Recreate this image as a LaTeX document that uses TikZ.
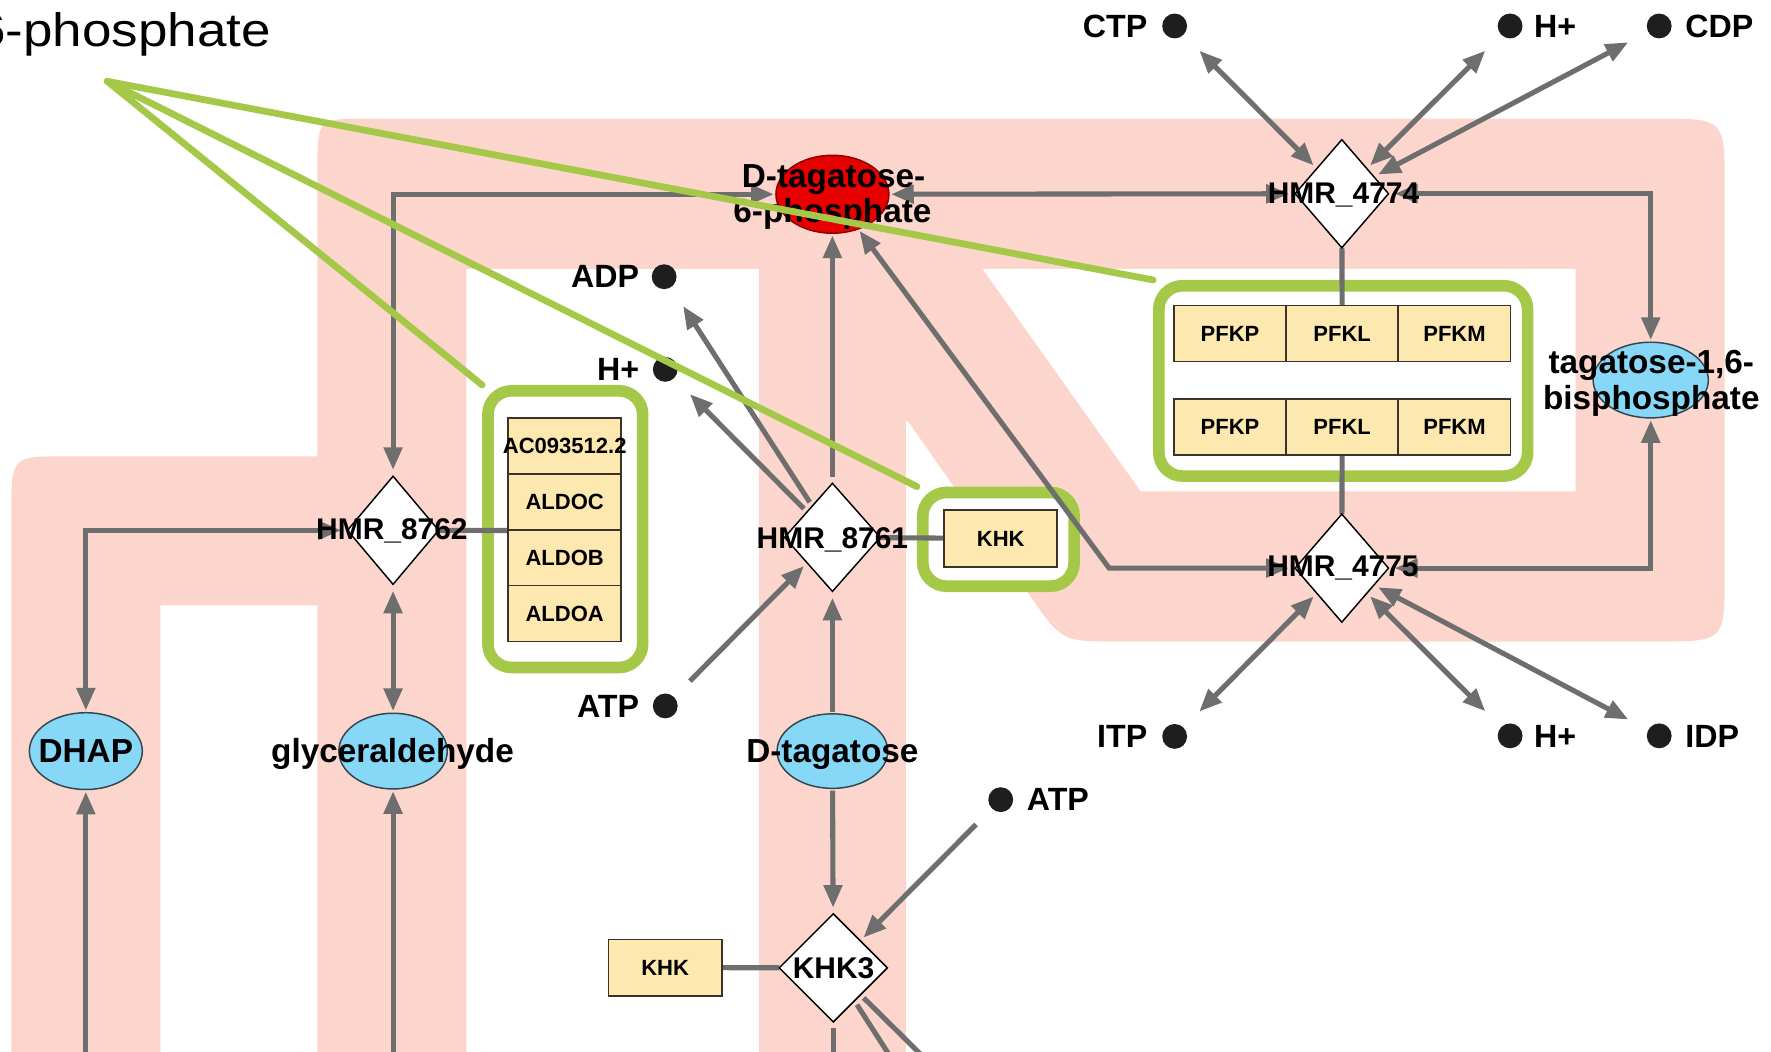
\documentclass[tikz,border=0pt]{standalone}
\usepackage{fontspec}
\setmainfont{Liberation Sans}
\newfontfamily\widesans[FakeStretch=1.13]{Liberation Sans}
\usetikzlibrary{shapes.geometric,arrows.meta}
\definecolor{pinkbg}{RGB}{252,214,204}
\definecolor{linkgray}{RGB}{110,110,110}
\definecolor{enzfill}{RGB}{253,233,176}
\definecolor{enzline}{RGB}{60,50,40}
\definecolor{bluefill}{RGB}{135,215,247}
\definecolor{bluelin}{RGB}{50,70,80}
\definecolor{redfill}{RGB}{232,0,0}
\definecolor{redline}{RGB}{140,0,0}
\definecolor{callgreen}{RGB}{165,200,72}
\definecolor{dotcol}{RGB}{30,30,30}
\newcommand\metfont{\fontsize{28.5}{30}\selectfont\bfseries}
\newcommand\molfont{\fontsize{29.5}{31}\selectfont\bfseries}
\newcommand\rxnfont{\fontsize{26.5}{28}\selectfont\bfseries}
\newcommand\enzfont{\fontsize{19.5}{21}\selectfont\bfseries}
\newcommand\callfont{\widesans\fontsize{41.5}{44}\selectfont}
\pgfdeclarelayer{bglayer}
\pgfdeclarelayer{boxlayer}
\pgfdeclarelayer{edgelayer}
\pgfdeclarelayer{toplayer}
\pgfsetlayers{bglayer,boxlayer,edgelayer,main,toplayer}
\begin{document}
\begin{tikzpicture}[x=1pt,y=-1pt,
  >={Triangle[length=20pt,width=16pt]},
  link/.style={draw=linkgray, line width=4.5pt},
  rxn/.style={shape=diamond, draw=black, line width=1.3pt, fill=white, inner sep=0pt, outer sep=4pt, minimum width=86pt, minimum height=99pt},
  mol/.style={shape=ellipse, draw=bluelin, line width=1.3pt, fill=bluefill, inner sep=0pt, outer sep=2pt},
  metdot/.style={circle, fill=dotcol, inner sep=0pt, minimum size=22pt, outer sep=20pt},
  enz/.style={rectangle, draw=enzline, line width=1.4pt, fill=enzfill, inner sep=0pt, font=\enzfont},
  pfkcell/.style={enz, minimum width=99.3pt, minimum height=49.6pt},
  aldocell/.style={enz, minimum width=100pt, minimum height=49.5pt},
  grp/.style={rectangle, draw=callgreen, line width=10.3pt, fill=white, rounded corners=21pt, inner sep=0pt},
  callline/.style={draw=callgreen, line width=6pt, line cap=round},
  metlab/.style={font=\metfont, inner sep=0pt},
  mollab/.style={font=\molfont, inner sep=0pt, anchor=base},
  rxnlab/.style={font=\rxnfont, inner sep=0pt, anchor=base},
  enzlink/.style={link, shorten <=-5.5pt}
]
\useasboundingbox (0,0) rectangle (1568,931);

% background bands
\begin{pgfonlayer}{bglayer}
\fill[white] (0,0) rectangle (1568,931);
\fill[pinkbg] (10,945) -- (10,454) .. controls (10,404) .. (60,404) -- (285,404) -- (285,536) -- (142,536) -- (142,945) -- cycle;
\fill[pinkbg] (281,945) -- (281,150) .. controls (281,105) .. (326,105) -- (1467,105) .. controls (1527,105) .. (1527,165) -- (1527,508) .. controls (1527,568) .. (1467,568) -- (990,568) .. controls (940,568) .. (911.7,527) -- (804,373) -- (802,373) -- (802,945) -- (672,945) -- (672,238) -- (413,238) -- (413,945) -- cycle;
\fill[white] (870,238) -- (1395,238) -- (1395,435) -- (1010,435) -- cycle;
\end{pgfonlayer}

% green group boxes
\begin{pgfonlayer}{boxlayer}
\node[grp, minimum width=326.5pt, minimum height=168.5pt] (gpfk) at (1189.25,337.25) {};
\node[grp, minimum width=137pt, minimum height=245pt] (galdo) at (500.5,468.5) {};
\node[grp, minimum width=134pt, minimum height=83pt] (gkhk) at (884,477.5) {};
\end{pgfonlayer}

% reactions
\node[rxn] (r4774) at (1188,171.5) {};
\node[rxn] (r4775) at (1188,503) {};
\node[rxn, minimum width=84pt] (r8762) at (348,469.5) {};
\node[rxn, minimum width=88pt] (r8761) at (737,475.75) {};
\node[rxn, minimum width=99pt] (khk3) at (737.8,856.9) {};

% metabolites (ellipses)
\node[mol, minimum width=100pt, minimum height=68pt] (dhap) at (76,665) {};
\node[mol, minimum width=96pt, minimum height=67pt] (glyc) at (348,665) {};
\node[mol, minimum width=98pt, minimum height=66pt] (dtag) at (737,665) {};
\node[mol, minimum width=102pt, minimum height=67pt] (tbp) at (1461.5,336.5) {};
\node[mol, fill=redfill, draw=redline, minimum width=100pt, minimum height=69pt] (d6p) at (737,172) {};

% small metabolites
\node[metdot] (ctp) at (1040,23) {};
\node[metlab, anchor=base east] (ctpl) at (1016,33.2) {CTP};
\node[metdot] (htop) at (1337,23) {};
\node[metlab, anchor=base west] (htopl) at (1358,33.2) {H+};
\node[metdot] (cdp) at (1469,23) {};
\node[metlab, anchor=base west] (cdpl) at (1492,33.2) {CDP};
\node[metdot] (adp) at (588,245) {};
\node[metlab, anchor=base east] (adpl) at (566,254.2) {ADP};
\node[metdot] (hmid) at (589,327) {};
\node[metlab, anchor=base east] (hmidl) at (566,337.2) {H+};
\node[metdot] (atpl) at (589,625) {};
\node[metlab, anchor=base east] (atpll) at (566,635.2) {ATP};
\node[metdot] (atpr) at (886,708) {};
\node[metlab, anchor=base west] (atprl) at (909,717.7) {ATP};
\node[metdot] (itp) at (1040,652) {};
\node[metlab, anchor=base east] (itpl) at (1016,661.9) {ITP};
\node[metdot] (hbot) at (1337,651.5) {};
\node[metlab, anchor=base west] (hbotl) at (1358,661.7) {H+};
\node[metdot] (idp) at (1469,651.5) {};
\node[metlab, anchor=base west] (idpl) at (1492,661.7) {IDP};

% enzymes
\node[pfkcell] (pfkA1) at (1089,295.4) {PFKP};
\node[pfkcell] (pfkB1) at (1188.3,295.4) {PFKL};
\node[pfkcell] (pfkC1) at (1287.8,295.4) {PFKM};
\node[pfkcell] (pfkA2) at (1089,378.15) {PFKP};
\node[pfkcell] (pfkB2) at (1188.3,378.15) {PFKL};
\node[pfkcell] (pfkC2) at (1287.8,378.15) {PFKM};
\node[aldocell] (aldoX) at (500,394.75) {\makebox[0pt]{AC093512.2}};
\node[aldocell] (aldoC) at (500,444.25) {ALDOC};
\node[aldocell] (aldoB) at (500,493.75) {ALDOB};
\node[aldocell] (aldoA) at (500,543.25) {ALDOA};
\node[enz, minimum width=100pt, minimum height=50.5pt] (khk1) at (886,476.75) {KHK};
\node[enz, minimum width=100.3pt, minimum height=50pt] (khk2) at (588.9,856.7) {KHK};

% labels
\node[mollab] (dhapl) at (76,675.5) {DHAP};
\node[mollab] (glycl) at (347.5,675.5) {glyceraldehyde};
\node[mollab] (dtagl) at (737,675.5) {D-tagatose};
\node[mollab] (d6pl1) at (738,165.6) {D-tagatose-};
\node[mollab] (d6pl2) at (737,197.3) {6-phosphate};
\node[mollab] (tbpl1) at (1462,330.5) {tagatose-1,6-};
\node[mollab] (tbpl2) at (1462,362.5) {bisphosphate};
\node[rxnlab] (r4774l) at (1189.5,180) {HMR\_4774};
\node[rxnlab] (r4775l) at (1189,510.6) {HMR\_4775};
\node[rxnlab] (r8762l) at (347,477.8) {HMR\_8762};
\node[rxnlab] (r8761l) at (737,485.5) {HMR\_8761};
\node[rxnlab] (khk3l) at (738,866) {KHK3};
\node[font=\callfont, anchor=base east, inner sep=0pt] (calltext) at (240,41.3) {6-phosphate};

% free ends
\coordinate (dhapin) at (76,950);
\coordinate (glycin) at (348,950);
\coordinate (kout1) at (737.8,950);
\coordinate (kout2) at (804,960);
\coordinate (kout3) at (842,960);
\coordinate (c1) at (982,503);
\coordinate (apex) at (95,72);

% connectors
\begin{pgfonlayer}{edgelayer}
\draw[link,<->] (r8762) -| (dhap);
\draw[link,<->] (r8762) |- (d6p);
\draw[link,<->] (r8762) -- (glyc);
\draw[link,->] (dhapin) -- (dhap);
\draw[link,->] (glycin) -- (glyc);
\draw[enzlink] (r8762) -- (aldoC.south west);
\draw[link,->] (r8761) -- (d6p);
\draw[link,<->] (r4775) -- (c1) -- (d6p);
\draw[link,->] (r8761) -- (adp);
\draw[link,->] (r8761) -- (hmid);
\draw[link,->] (atpl) -- (r8761);
\draw[link,->] (dtag) -- (r8761);
\draw[enzlink] (r8761) -- (khk1);
\draw[link,->] (dtag) -- (khk3);
\draw[link,->] (atpr) -- (khk3);
\draw[enzlink] (khk3) -- (khk2);
\draw[link] (khk3) -- (kout1);
\draw[link] (khk3) -- (kout2);
\draw[link] (khk3) -- (kout3);
\draw[link,<->] (d6p) -- (r4774);
\draw[link,<->] (r4774) -| (tbp);
\draw[link,<->] (ctp) -- (r4774);
\draw[link,<->] (htop) -- (r4774);
\draw[link,<->] (cdp) -- (r4774);
\draw[enzlink] (r4774) -- (pfkB1);
\draw[enzlink] (r4775) -- (pfkB2);
\draw[link,<->] (tbp) |- (r4775);
\draw[link,<->] (r4775) -- (itp);
\draw[link,<->] (r4775) -- (hbot);
\draw[link,<->] (r4775) -- (idp);
\end{pgfonlayer}

% callout lines
\begin{pgfonlayer}{toplayer}
\draw[callline] (apex) -- (gpfk.north west);
\draw[callline] (apex) -- (gkhk.north west);
\draw[callline] (apex) -- (galdo.north west);
\end{pgfonlayer}
\end{tikzpicture}
\end{document}
